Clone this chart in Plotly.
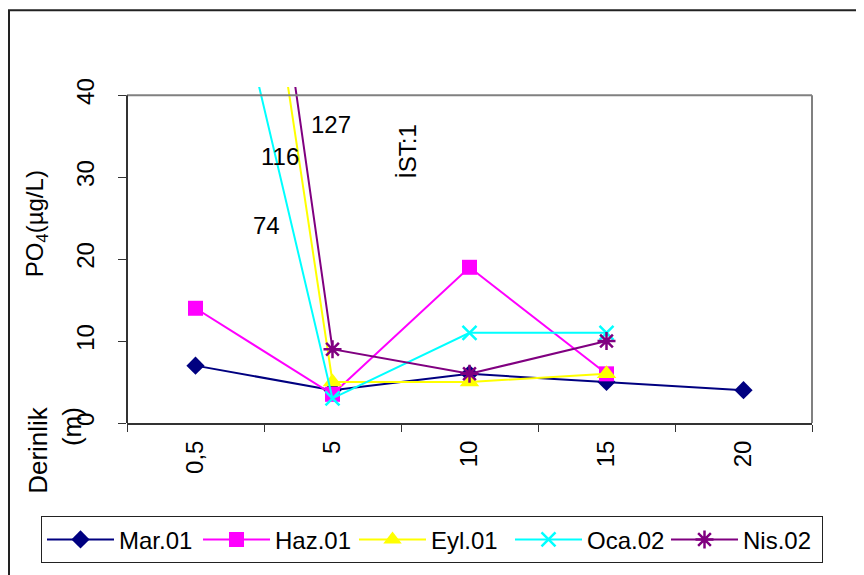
import plotly.graph_objects as go

depths = ["0,5", "5", "10", "15", "20"]
mar01 = [7, 4, 6, 5, 4]
haz01 = [14, 3.5, 19, 6, None]
eyl01 = [116, 5, 5, 6, None]
oca02 = [74, 3, 11, 11, None]
nis02 = [127, 9, 6, 10, None]
y_ticks = [0, 10, 20, 30, 40]
off_labels = [("74", 74), ("116", 116), ("127", 127)]

FONT = "Liberation Sans, Arial, sans-serif"
FS = 24
OFF = 8  # page body margin
W, H = 864 - OFF, 575 - OFF
# plot area in reference (page) pixels: x 127..812, y 95(=40)..425(=0)
YMAX = 41
PLOT_L, PLOT_R, Y0PX, Y40PX = 127, 812, 425, 95
PPU = (Y0PX - Y40PX) / 40.0
TOP_PX = Y0PX - YMAX * PPU
L = PLOT_L - OFF
R = W - (PLOT_R - OFF)
T = TOP_PX - OFF
B = H - (Y0PX - OFF)
PW, PH = W - L - R, H - T - B


def px(xp):
    return (xp - OFF - L) / PW


def py(yp):
    return (H - B - (yp - OFF)) / PH


fig = go.Figure()
series = [
    ("Mar.01", mar01, "#000080", dict(symbol="diamond", size=14, color="#000080")),
    ("Haz.01", haz01, "#FF00FF", dict(symbol="square", size=15, color="#FF00FF")),
    ("Eyl.01", eyl01, "#FFFF00", dict(symbol="triangle-up", size=17, color="#FFFF00")),
    ("Oca.02", oca02, "#00FFFF", dict(symbol="x-thin-open", size=14, color="#00FFFF",
                                      line=dict(width=2.5, color="#00FFFF"))),
    ("Nis.02", nis02, "#800080", dict(symbol="asterisk-open", size=15, color="#800080",
                                      line=dict(width=2.5, color="#800080"))),
]
for name, vals, col, mk in series:
    fig.add_trace(go.Scatter(
        x=depths, y=vals, name=name, mode="lines+markers",
        line=dict(color=col, width=2), marker=mk, connectgaps=False,
    ))

shapes = [
    dict(type="line", xref="paper", yref="y", x0=0, x1=1, y0=40, y1=40,
         line=dict(color="#808080", width=2)),
    dict(type="line", xref="paper", yref="y", x0=1, x1=1, y0=0, y1=40,
         line=dict(color="#808080", width=2)),
    dict(type="line", xref="paper", yref="y", x0=0, x1=0, y0=0, y1=40,
         line=dict(color="#333333", width=2)),
    dict(type="rect", xref="paper", yref="paper", x0=px(9), x1=px(885),
         y0=py(600), y1=py(9.5), line=dict(color="#222222", width=2), layer="below"),
]

annotations = [
    dict(text="PO<sub>4</sub>(µg/L)", textangle=-90, xref="paper", yref="paper",
         x=px(36), y=py(225), xanchor="center", yanchor="middle", showarrow=False,
         font=dict(size=FS, color="black", family=FONT)),
    dict(text="Derinlik<br>(m)", textangle=-90, xref="paper", yref="paper", align="right",
         x=px(55), y=py(452), xanchor="center", yanchor="middle", showarrow=False,
         font=dict(size=26, color="black", family=FONT)),
    dict(text="İST:1", textangle=-90, xref="paper", yref="paper",
         x=px(408), y=py(152), xanchor="center", yanchor="middle", showarrow=False,
         font=dict(size=FS, color="black", family=FONT)),
]
label_pos = {"74": (266, 226), "116": (280, 157), "127": (331, 124)}
for txt, _v in off_labels:
    xx, yy = label_pos[txt]
    annotations.append(dict(text=txt, xref="paper", yref="paper", x=px(xx), y=py(yy),
                            xanchor="center", yanchor="middle", showarrow=False,
                            font=dict(size=FS, color="black", family=FONT)))

fig.update_layout(
    width=W, height=H,
    margin=dict(l=L, r=R, t=T, b=B, pad=0),
    paper_bgcolor="white", plot_bgcolor="white",
    font=dict(family=FONT, size=FS, color="black"),
    showlegend=True,
    legend=dict(orientation="h", x=px(41), y=py(519), xanchor="left", yanchor="top",
                bordercolor="#222222", borderwidth=1, bgcolor="white",
                font=dict(size=FS, family=FONT), itemwidth=67,
                entrywidth=74, entrywidthmode="pixels"),
    xaxis=dict(type="category", range=[-0.5, 4.5], showgrid=False, zeroline=False,
               showline=True, linecolor="#333333", linewidth=2,
               ticks="outside", ticklen=7, tickcolor="#333333", tickwidth=1,
               tickson="boundaries", tickangle=-90, ticklabelstandoff=6,
               tickfont=dict(size=FS, family=FONT)),
    yaxis=dict(range=[0, YMAX], tickvals=y_ticks, showgrid=False, zeroline=False,
               showline=False, ticks="outside", ticklen=8, tickcolor="#333333",
               tickwidth=1, tickangle=-90, ticklabelstandoff=14,
               tickfont=dict(size=FS, family=FONT)),
    shapes=shapes,
    annotations=annotations,
)

fig.write_html("out.html")
